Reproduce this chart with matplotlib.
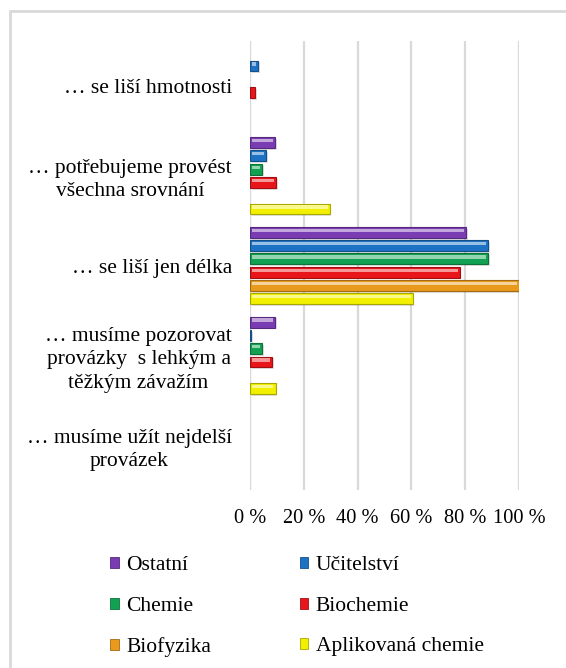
import numpy as np
import matplotlib.pyplot as plt
from matplotlib.patches import Rectangle
import matplotlib.colors as mcolors

plt.rcParams['font.family'] = ['Liberation Serif', 'DejaVu Serif']

categories = ['… se liší hmotnosti',
              '… potřebujeme provést\nvšechna srovnání',
              '… se liší jen délka',
              '… musíme pozorovat\nprovázky  s lehkým a\ntěžkým závažím',
              '… musíme užít nejdelší\nprovázek']
series = ['Ostatní', 'Učitelství', 'Chemie', 'Biochemie', 'Biofyzika', 'Aplikovaná chemie']
colors = ['#7a3cb2', '#1d72c4', '#12a152', '#e8161a', '#e99a1c', '#f2f000']

ostatni = [0, 9.3, 80.5, 9.3, 0]
ucitelstvi = [3, 6, 88.6, 0.5, 0]
chemie = [0, 4.5, 88.6, 4.5, 0]
biochemie = [2, 9.7, 78, 8.3, 0]
biofyzika = [0, 0, 100, 0, 0]
aplikovana = [0, 29.7, 60.5, 9.5, 0]
values = [ostatni, ucitelstvi, chemie, biochemie, biofyzika, aplikovana]

fig = plt.figure(figsize=(5.66, 6.68), dpi=100)
ax = fig.add_axes([0.4417, 0.2665, 0.475, 0.672])

# light frame of the chart area (only top/left visible)
fig.patches.append(Rectangle((10 / 566, -0.1), 1.2, 1 - 11 / 668 + 0.1,
                             transform=fig.transFigure, fill=False,
                             edgecolor='#d9d9d9', linewidth=2))

n = len(series)
slot = 0.148
bh = slot * 0.82
y = np.arange(len(categories))
for i, (name, vals, c) in enumerate(zip(series, values, colors)):
    vals = np.array(vals, dtype=float)
    pos = y - (n - 1) / 2 * slot + i * slot
    nz = vals > 0
    dark = np.array(mcolors.to_rgb(c)) * 0.7
    light = np.array(mcolors.to_rgb(c)) * 0.45 + 0.55
    # shadow
    ax.barh(pos[nz] + 0.02, vals[nz], height=bh, left=0.6, color='#000000',
            alpha=0.12, zorder=2, linewidth=0)
    ax.barh(pos[nz], vals[nz], height=bh, color=c, edgecolor=dark,
            linewidth=0.8, zorder=3)
    # bevel highlight
    hl = vals[nz] > 2
    ax.barh(pos[nz][hl] - bh * 0.18, vals[nz][hl] - 1.6, height=bh * 0.3,
            left=0.8, color=light, linewidth=0, zorder=4)
    ax.barh([np.nan], [np.nan], color=c, edgecolor=dark, linewidth=0.6,
            label=name)

ax.set_ylim(len(categories) - 0.5, -0.5)
ax.set_xlim(0, 100)
ax.set_xticks([0, 20, 40, 60, 80, 100])
ax.set_xticklabels(['0 %', '20 %', '40 %', '60 %', '80 %', '100 %'], fontsize=14.7)
ax.set_yticks(y)
ax.set_yticklabels(categories, fontsize=15.5, multialignment='center',
                   linespacing=1.3)
ax.tick_params(length=0, pad=13, axis='y')
ax.tick_params(length=0, pad=14, axis='x')
ax.xaxis.grid(True, color='#d9d9d9', linewidth=1.6, zorder=0)
ax.set_axisbelow(True)
for s in ax.spines.values():
    s.set_visible(False)
ax.axvline(0, color='#d9d9d9', linewidth=1.6, zorder=1)

handles, labels = ax.get_legend_handles_labels()
order = [0, 2, 4, 1, 3, 5]
leg = fig.legend([handles[k] for k in order], [labels[k] for k in order],
                 ncol=2, loc='upper left', bbox_to_anchor=(0.195, 0.167),
                 frameon=False, fontsize=15.5, handlelength=0.4, handleheight=0.4,
                 handletextpad=0.35, columnspacing=4.1, labelspacing=1.0,
                 borderpad=0, borderaxespad=0)

fig.savefig('out.png', dpi=100)
